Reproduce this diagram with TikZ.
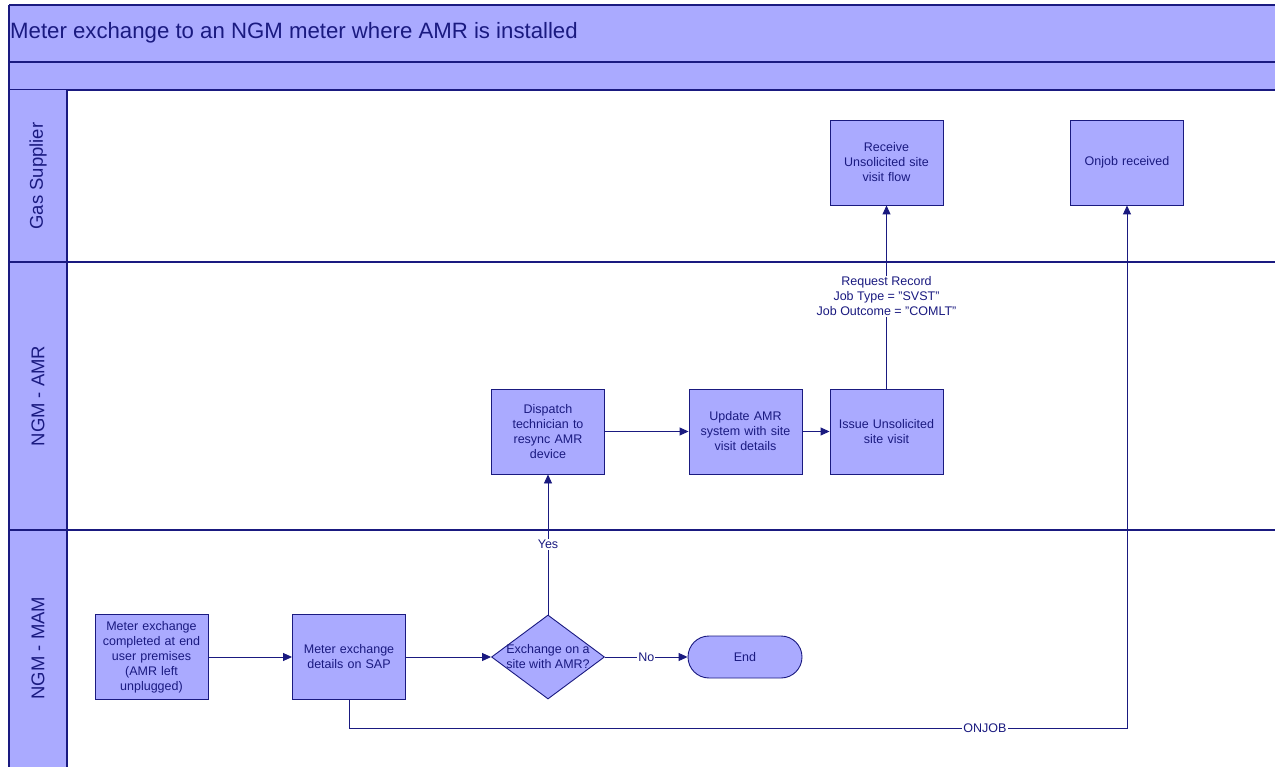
\documentclass[tikz,border=0pt]{standalone}
\usepackage{fontspec}
\setmainfont{Liberation Sans}
\usetikzlibrary{arrows.meta,shapes.geometric}
\definecolor{lanefill}{HTML}{AAAAFF}
\definecolor{navy}{HTML}{1A1A80}
\begin{document}
\begin{tikzpicture}[x=1pt,y=-1pt,
  every node/.style={text=navy},
  task/.style={draw=navy,fill=lanefill,line width=0.9pt,minimum width=113pt,minimum height=85pt,
    inner sep=2pt,align=center,font=\fontsize{12.5}{15}\selectfont,text width=107pt},
  decision/.style={draw=navy,fill=lanefill,line width=0.9pt,diamond,minimum width=113pt,minimum height=84pt,inner sep=0pt},
  terminal/.style={draw=navy,fill=lanefill,line width=0.9pt,rounded corners=21pt,minimum width=114pt,minimum height=42pt,
    font=\fontsize{12.5}{15}\selectfont},
  flow/.style={draw=navy,line width=0.9pt,-{Triangle[length=9pt,width=8pt]}},
  flowlabel/.style={fill=white,inner sep=1pt,font=\fontsize{12.5}{15}\selectfont,align=center},
  lanetitle/.style={rotate=90,font=\fontsize{18.5}{22}\selectfont},
  border/.style={draw=navy,line width=1.2pt}]
\useasboundingbox (0,0) rectangle (1275,767);
\fill[white] (0,0) rectangle (1275,767);

% header bands
\fill[lanefill] (9,5) rectangle (1275,90);
\draw[gray!60,line width=0.6pt] (9,4) -- (1275,4);
\draw[border] (9,5) -- (1275,5);
\draw[border] (9,62) -- (1275,62);
\draw[border] (9,90) -- (1275,90);
\node[anchor=west,font=\fontsize{22.2}{26}\selectfont,inner sep=0pt] (title) at (10,33)
  {Meter exchange to an NGM meter where AMR is installed};

% lane label column
\fill[lanefill] (9,90) rectangle (67,767);
\draw[border] (9,5) -- (9,767);
\draw[border] (67,90) -- (67,767);
\node[lanetitle] (laneGS) at (38,176) {Gas Supplier};
\node[lanetitle] (laneAMR) at (38,396) {NGM - AMR};
\node[lanetitle] (laneMAM) at (38,648) {NGM - MAM};

% process steps
\node[task] (receive) at (886.5,162.5) {Receive\\Unsolicited site\\visit flow};
\node[task] (onjob) at (1127,162.5) {Onjob received};
\node[task] (dispatch) at (548,431.5) {Dispatch\\technician to\\resync AMR\\device};
\node[task] (update) at (745.5,431.5) {Update AMR\\system with site\\visit details};
\node[task] (issue) at (886.5,431.5) {Issue Unsolicited\\site visit};
\node[task] (completed) at (151.5,657) {Meter exchange\\completed at end\\user premises\\(AMR left\\unplugged)};
\node[task] (sap) at (349,657) {Meter exchange\\details on SAP};
\node[decision] (decide) at (548,657) {};
\node[align=center,font=\fontsize{12.5}{15}\selectfont,inner sep=0pt] (decidetext) at (548,657)
  {Exchange on a\\site with AMR?};
\node[terminal] (end) at (745,657) {End};

% connectors
\draw[flow] (completed) -- (sap);
\draw[flow] (sap) -- (decide);
\draw[flow] (decide) -- node[flowlabel] {No} (end);
\draw[flow] (decide) -- node[flowlabel,pos=0.5] {Yes} (dispatch);
\draw[flow] (dispatch) -- (update);
\draw[flow] (update) -- (issue);
\draw[flow] (issue) -- (receive);
\node[flowlabel] (reqlabel) at (886.5,296.5)
  {Request Record\\Job Type = "SVST"\\Job Outcome = "COMLT"};
\coordinate (c1) at (349,728);
\coordinate (c2) at (1127,728);
\draw[flow] (sap.south) -- (c1) -- (c2) -- (onjob.south);
\node[flowlabel] (onjoblabel) at (985,728) {ONJOB};

% lane boundaries
\draw[border] (9,262) -- (1275,262);
\draw[border] (9,530) -- (1275,530);
\end{tikzpicture}
\end{document}
